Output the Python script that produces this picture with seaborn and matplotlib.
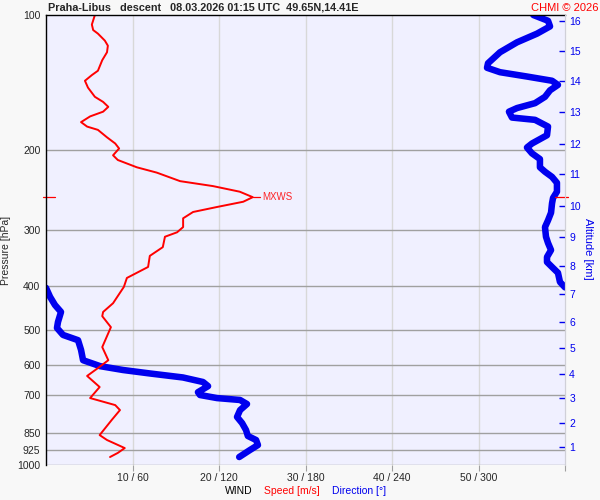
import numpy as np
import pandas as pd
import seaborn as sns
import matplotlib.pyplot as plt
from matplotlib.ticker import NullLocator, FixedLocator


# ==========================
# Data read off the sounding
# ==========================

# Wind speed [m/s] vs pressure [hPa], from the ground upward
speed_p = [960, 940, 917, 880, 858, 794, 755, 736, 710, 671, 634, 609, 585, 547, 494,
           467, 457, 437, 402, 384, 374, 363, 343, 328, 311, 304, 296, 283, 274, 267,
           260, 254, 247, 240, 234, 224, 218, 210, 205, 198, 193, 187, 180, 177, 173,
           168, 164, 160, 156, 152, 145, 140, 136, 133, 126, 121, 117, 114, 110, 108,
           105, 100]
speed = [7.4, 8.3, 9.1, 7.05, 6.2, 7.6, 8.55, 8.0, 5.1, 6.2, 4.75, 6.0, 7.2, 6.5, 7.5,
         6.5, 6.6, 7.75, 9.0, 9.35, 10.5, 11.8, 12.0, 13.5, 13.75, 15.15, 15.85, 15.85, 17.0, 19.8,
         22.8, 23.9, 22.4, 19.3, 15.5, 12.8, 10.5, 8.3, 7.75, 8.45, 8.0, 7.05, 6.0, 4.75, 4.05,
         5.1, 6.6, 7.2, 6.6, 5.65, 4.85, 4.5, 5.3, 6.0, 6.5, 7.05, 7.15, 6.8, 6.0, 5.45,
         5.3, 5.65]

# Wind direction [deg] vs pressure [hPa], from the ground upward
dir_p = [960, 926, 903, 880, 862, 836, 807, 782, 755, 732, 717, 710, 699, 689, 668,
         654, 639, 626, 615, 603, 585, 555, 528, 514, 496, 481, 457, 441, 423, 404,
         403, 392, 374, 365, 354, 345, 333, 321, 311, 296, 286, 275, 262, 255, 247,
         236, 229, 223, 218, 209, 203, 197, 193, 185, 177, 171, 169, 164, 161, 157,
         152, 147, 143, 140, 137, 134, 131, 128, 121, 115, 110, 106, 103, 100]
direction = [134, 141.5, 147, 145.7, 140, 138.7, 136, 132.5, 134.6, 139.4, 134.6, 118.6, 106.8, 105.4, 112.4,
             108.9, 95, 72, 53.4, 37.5, 25.7, 24.3, 22.2, 11.8, 7.6, 8.3, 10.4, 6.2, 2.8, 0,
             360, 356.5, 355.1, 351.7, 347.5, 347.5, 350.3, 348.2, 346.8, 346.1, 348.2, 350.3, 351, 351.7, 354.4,
             354.4, 351, 346.1, 342.6, 342.6, 337.1, 333.6, 337.1, 347.5, 348.2, 339.2, 323.2, 321.1, 326.7, 339.2,
             346.1, 349.6, 355.1, 351, 333.6, 314.9, 305.9, 306.6, 314.9, 326.7, 340.6, 349.6, 348.2, 338]

# Pressure levels shown on the left axis
p_ticks = [100, 200, 300, 400, 500, 600, 700, 850, 925, 1000]

# Altitude [km] and the pressure where it sits on the right axis
alt_km = list(range(1, 17))
alt_p = [912, 807, 710, 628, 550, 481, 417, 361, 311, 266, 226, 193, 164, 140, 120, 103]

# Speed ticks on the bottom axis (direction = speed * 6)
speed_ticks = [10, 20, 30, 40, 50, 60]


# ==========================
# Data frames
# ==========================

df_speed = pd.DataFrame({"p": speed_p, "speed": speed})

df_dir = pd.DataFrame({"p": dir_p, "direction": direction})
df_dir["x"] = df_dir["direction"] / 6
# break the line where it wraps around north
df_dir["segment"] = (df_dir["direction"].diff().abs() > 180).cumsum()


# ==========================
# Style
# ==========================

sns.set_style("white")
plt.rcParams["font.family"] = ["Liberation Sans", "DejaVu Sans"]

red = "#ff0000"
blue = "#0000ee"

fig = plt.figure(figsize=(6, 5), dpi=100, facecolor="#f8f8f8")
ax = fig.add_axes([0.0767, 0.07, 0.865, 0.90])
ax.set_facecolor("#f0f0ff")


# ==========================
# Lines
# ==========================

sns.lineplot(
    data=df_dir, x="x", y="p", units="segment", estimator=None,
    sort=False, orient="y", color=blue, linewidth=4.7, ax=ax,
    solid_capstyle="round"
)

sns.lineplot(
    data=df_speed, x="speed", y="p", estimator=None,
    sort=False, orient="y", color=red, linewidth=1.4, ax=ax
)


# ==========================
# Axes
# ==========================

ax.set_yscale("log")
ax.set_ylim(1000, 100)
ax.set_xlim(0, 60)

ax.yaxis.set_major_locator(FixedLocator(p_ticks))
ax.yaxis.set_minor_locator(NullLocator())
ax.set_yticklabels([str(p) for p in p_ticks])
ax.tick_params(axis="y", length=0, pad=4, labelsize=7.5)

ax.set_xticks(speed_ticks)
ax.set_xticklabels([f"{s} / {s * 6}" if s < 60 else "" for s in speed_ticks])
ax.tick_params(axis="x", length=4, width=0.8, color="#a0a0a0", pad=2, labelsize=7.5, bottom=True)

# grid
for p in p_ticks[1:]:
    ax.axhline(p, color="#a0a0a0", linewidth=1.0, zorder=0.5)
for s in speed_ticks[:-1]:
    ax.axvline(s, color="#d8d8d8", linewidth=1.0, zorder=0.4)

ax.spines["top"].set_color("black")
ax.spines["left"].set_color("black")
ax.spines["top"].set_linewidth(1.0)
ax.spines["left"].set_linewidth(1.0)
ax.spines["bottom"].set_visible(False)
ax.spines["right"].set_color("#d0d0d8")

ax.set_xlabel("")
ax.set_ylabel("Pressure [hPa]", fontsize=7.5)
ax.yaxis.set_label_coords(-0.067, 0.476)

# right axis: altitude
ax2 = ax.twinx()
ax2.set_yscale("log")
ax2.set_ylim(1000, 100)
ax2.yaxis.set_major_locator(FixedLocator(alt_p))
ax2.yaxis.set_minor_locator(NullLocator())
ax2.set_yticklabels([str(k) for k in alt_km])
ax2.tick_params(axis="y", direction="in", length=4.5, width=1.0, color=blue,
                labelcolor=blue, labelsize=7.5, pad=3)
ax2.spines["right"].set_color("#d0d0d8")
ax2.spines["top"].set_visible(False)
ax2.spines["left"].set_visible(False)
ax2.spines["bottom"].set_visible(False)
ax2.set_ylabel("Altitude [km]", color=blue, fontsize=8, rotation=270)
ax2.yaxis.set_label_coords(1.053, 0.48)


# ==========================
# Max wind marker
# ==========================

i_max = int(np.argmax(speed))
p_max = speed_p[i_max]
s_max = speed[i_max]

ax.plot([-0.35, 1.0], [p_max, p_max], color=red, linewidth=0.9, clip_on=False)
ax.plot([58.8, 60.3], [p_max, p_max], color=red, linewidth=0.9, clip_on=False, zorder=5)
ax.plot([s_max, s_max + 0.8], [p_max, p_max], color=red, linewidth=0.9)
ax.text(s_max + 1.1, p_max, "MXWS", color=red, fontsize=7, va="center", ha="left",
        alpha=0.85)


# ==========================
# Texts
# ==========================

fig.text(0.08, 0.984, "Praha-Libus   descent   08.03.2026 01:15 UTC  49.65N,14.41E",
         fontsize=7.8, fontweight="bold", va="center", ha="left")
fig.text(0.997, 0.984, "CHMI © 2026", fontsize=8, color=red, va="center", ha="right")

fig.text(0.375, 0.018, "WIND", fontsize=7.5, color="black", va="center", ha="left")
fig.text(0.44, 0.018, "Speed [m/s]", fontsize=7.5, color=red, va="center", ha="left")
fig.text(0.553, 0.018, "Direction [°]", fontsize=7.5, color=blue, va="center", ha="left")

fig.savefig("out.png", dpi=100, facecolor=fig.get_facecolor())
